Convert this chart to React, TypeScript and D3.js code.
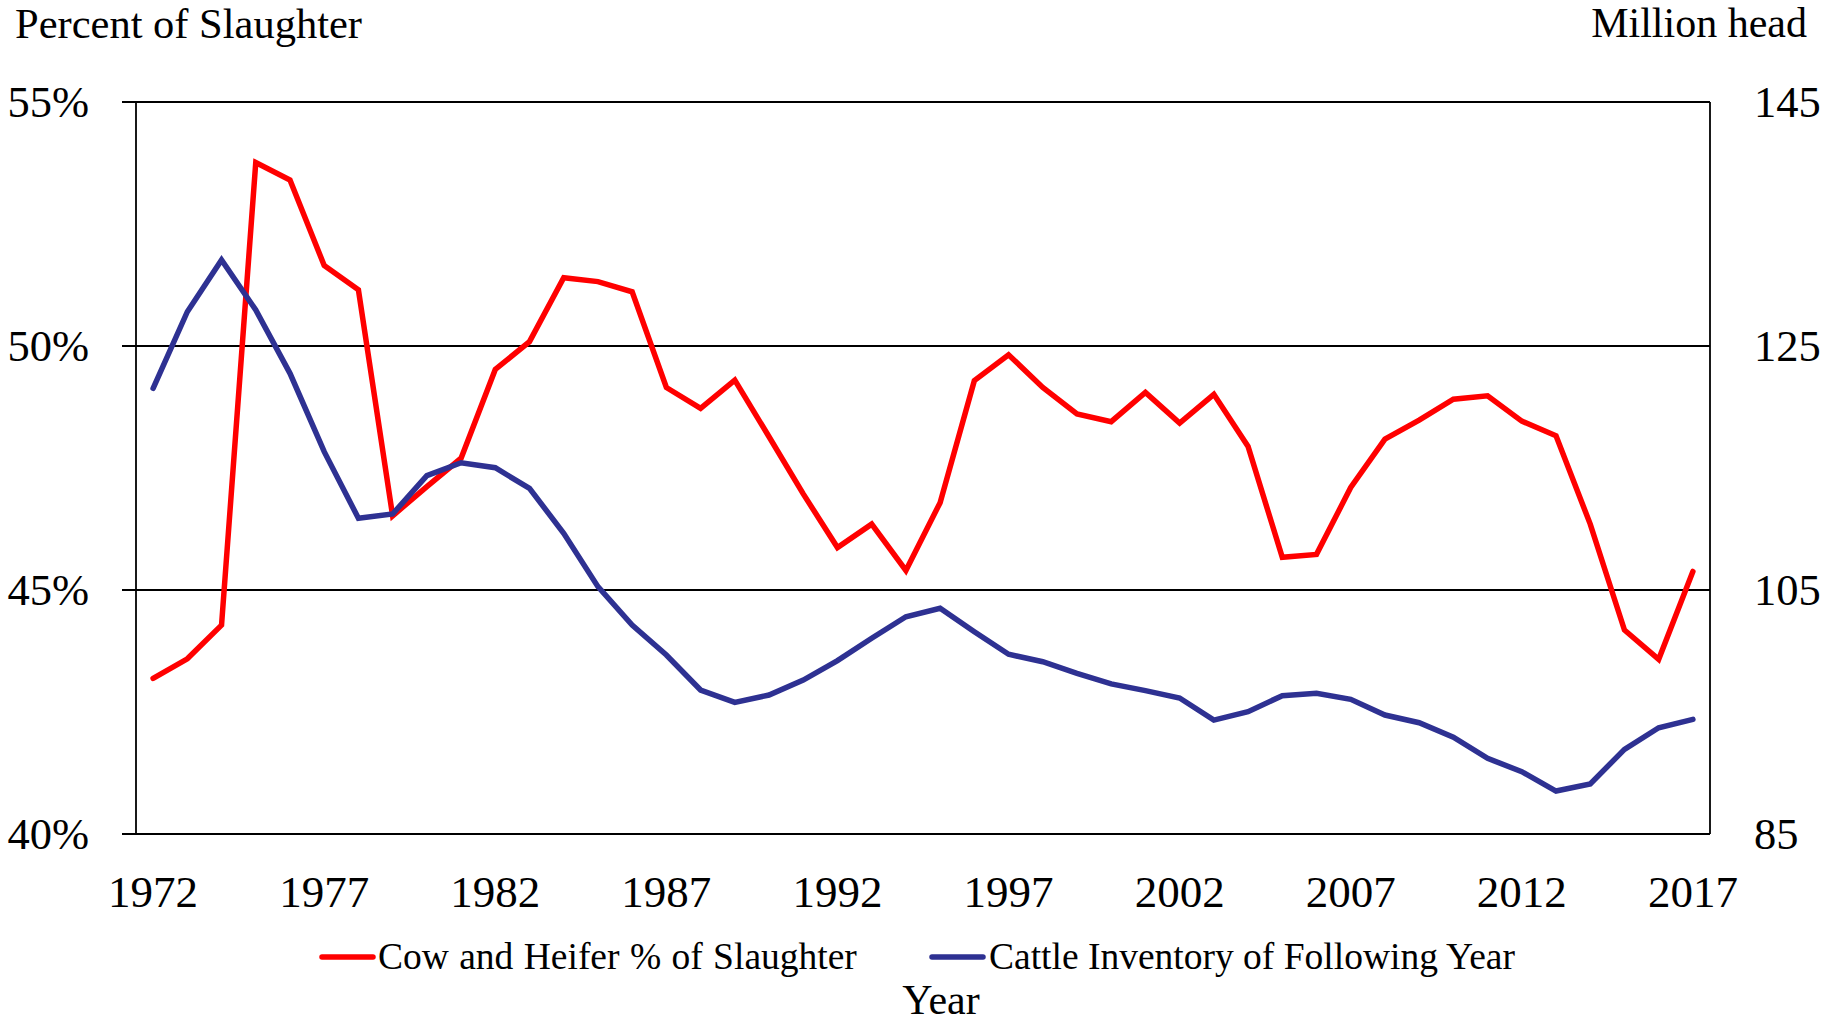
import React from "react";
import * as d3 from "d3";

const years: number[] = d3.range(1972, 2018);
const cowHeiferPct: number[] = [
  43.19, 43.59, 44.28, 53.76, 53.4, 51.65, 51.15, 46.52, 47.12, 47.7,
  49.52, 50.09, 51.4, 51.32, 51.11, 49.15, 48.72, 49.3, 48.14, 46.97,
  45.87, 46.35, 45.4, 46.79, 49.29, 49.82, 49.15, 48.61, 48.45, 49.05,
  48.42, 49.01, 47.94, 45.67, 45.73, 47.1, 48.09, 48.48, 48.91, 48.98,
  48.46, 48.16, 46.35, 44.18, 43.58, 45.38,
];
const inventory: number[] = [
  121.53, 127.81, 132.05, 127.95, 122.76, 116.34, 110.88, 111.23, 114.37, 115.43,
  115.02, 113.33, 109.65, 105.27, 102.13, 99.67, 96.8, 95.79, 96.39, 97.62,
  99.21, 101.04, 102.81, 103.5, 101.58, 99.73, 99.12, 98.17, 97.3, 96.75,
  96.15, 94.34, 95.03, 96.34, 96.53, 96.04, 94.75, 94.12, 92.93, 91.2,
  90.11, 88.52, 89.1, 91.94, 93.71, 94.4,
];
const leftTicks: number[] = [40, 45, 50, 55];
const rightTicks: number[] = [85, 105, 125, 145];
const xTickYears: number[] = [1972, 1977, 1982, 1987, 1992, 1997, 2002, 2007, 2012, 2017];
const seriesNames: string[] = ["Cow and Heifer % of Slaughter", "Cattle Inventory of Following Year"];

const W = 1839;
const H = 1022;
const L = 136, R = 1710, T = 102, B = 834;
const RED = "#FF0000";
const BLUE = "#2E3192";
const FONT = "'Liberation Serif', 'Times New Roman', serif";

export default function App() {
  const x = d3.scaleBand<number>().domain(years).range([L, R]);
  const cx = (yr: number) => (x(yr) as number) + x.bandwidth() / 2;
  const yL = d3.scaleLinear().domain([40, 55]).range([B, T]);
  const yR = d3.scaleLinear().domain([85, 145]).range([B, T]);

  const redLine = d3.line<number>().x((_, i) => cx(years[i])).y((d) => yL(d))(cowHeiferPct) as string;
  const blueLine = d3.line<number>().x((_, i) => cx(years[i])).y((d) => yR(d))(inventory) as string;

  return (
    <svg width={W} height={H} style={{ position: "absolute", left: 0, top: 0, display: "block", background: "#fff" }} fontFamily={FONT}>
      <rect x={0} y={0} width={W} height={H} fill="#fff" />
      {leftTicks.map((t) => (
        <line key={"g" + t} x1={122} x2={R} y1={yL(t)} y2={yL(t)} stroke="#000" strokeWidth={1.8} />
      ))}
      <line x1={L} x2={L} y1={T} y2={B} stroke="#000" strokeWidth={1.8} />
      <line x1={R} x2={R} y1={T} y2={B} stroke="#000" strokeWidth={1.8} />
      {leftTicks.map((t) => (
        <text key={"lt" + t} x={89} y={yL(t) + 15} textAnchor="end" fontSize={44.5}>{t + "%"}</text>
      ))}
      {rightTicks.map((t) => (
        <text key={"rt" + t} x={1754} y={yR(t) + 15} textAnchor="start" fontSize={44.5}>{t}</text>
      ))}
      {xTickYears.map((yr) => (
        <text key={"xt" + yr} x={cx(yr)} y={907} textAnchor="middle" fontSize={45}>{yr}</text>
      ))}
      <path d={redLine} fill="none" stroke={RED} strokeWidth={5.5} strokeLinejoin="miter" strokeLinecap="round" />
      <path d={blueLine} fill="none" stroke={BLUE} strokeWidth={5.5} strokeLinejoin="miter" strokeLinecap="round" />
      <text x={15} y={38} fontSize={42.5}>Percent of Slaughter</text>
      <text x={1807} y={37} fontSize={42} textAnchor="end">Million head</text>
      <line x1={322} x2={373} y1={957} y2={957} stroke={RED} strokeWidth={5.5} strokeLinecap="round" />
      <text x={378} y={969} fontSize={37.5} wordSpacing={1}>{seriesNames[0]}</text>
      <line x1={932} x2={983} y1={957} y2={957} stroke={BLUE} strokeWidth={5.5} strokeLinecap="round" />
      <text x={989} y={969} fontSize={37.5}>{seriesNames[1]}</text>
      <text x={941} y={1014} fontSize={42} textAnchor="middle">Year</text>
    </svg>
  );
}
